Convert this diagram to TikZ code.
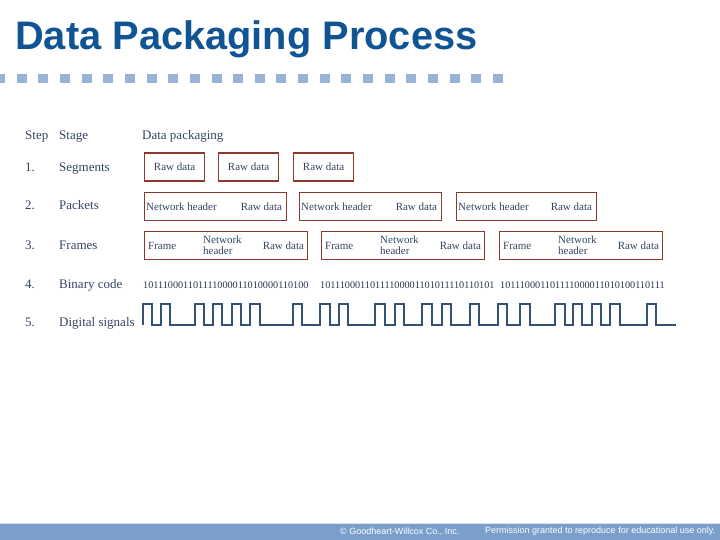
\documentclass[tikz,border=0pt]{standalone}
\usepackage{fontspec}
\setmainfont{Liberation Serif}
\newfontfamily\headfont{Liberation Sans}
\usepackage{tikz}
\usetikzlibrary{positioning}
\usepackage{xcolor}

\definecolor{titleblue}{RGB}{16,84,148}
\definecolor{dotblue}{RGB}{152,179,214}
\definecolor{barblue}{RGB}{122,159,203}
\definecolor{inkblue}{RGB}{52,68,98}
\definecolor{boxred}{RGB}{140,56,44}
\definecolor{waveblue}{RGB}{52,82,118}

\tikzset{
    lbl/.style={anchor=base west, inner sep=0pt, text=inkblue, font=\fontsize{13}{15}\selectfont},
    packet/.style={draw=boxred, line width=1.2pt, anchor=west, inner sep=0pt, minimum height=28pt, text=inkblue, font=\fontsize{11}{12}\selectfont},
    intxt/.style={inner sep=0pt, text=inkblue, font=\fontsize{11}{12}\selectfont},
    bits/.style={anchor=base west, inner sep=0pt, text=inkblue!80!black, font=\fontsize{10.2}{11}\selectfont},
    wave/.style={draw=waveblue, line width=1.3pt, line join=miter},
    foot/.style={inner sep=0pt, text=white, font=\headfont\fontsize{9}{10}\selectfont}
}

\begin{document}
\begin{tikzpicture}[x=1pt, y=-1pt]
        \useasboundingbox (0,0) rectangle (720,540);
        % Title and dotted rule
        \node [anchor=base west, inner sep=0pt, text=titleblue, font=\headfont\bfseries\fontsize{39.8}{42}\selectfont] (title) at (15,50) {Data Packaging Process};
        \foreach \i in {0,...,23}
            \fill [dotblue] (-5+\i*21.65,74) rectangle ++(10,9);
        % Column heads
        \node [lbl] (hstep) at (25,140) {Step};
        \node [lbl] (hstage) at (59,140) {Stage};
        \node [lbl] (hdata) at (142,140) {Data packaging};
        % Steps and stages
        \foreach \n/\y/\s in {1/172/Segments, 2/210/Packets, 3/249/Frames, 4/288/Binary code, 5/326/Digital signals} {
            \node [lbl] (step\n) at (25,\y) {\n.};
            \node [lbl] (stage\n) at (59,\y) {\s};
        }
        % Segments
        \node [packet, minimum width=60pt] (seg1) at (144,167) {Raw data};
        \node [packet, minimum width=60pt] (seg2) at (218,167) {Raw data};
        \node [packet, minimum width=60pt] (seg3) at (293,167) {Raw data};
        % Packets
        \foreach \i/\x/\w in {1/144/142, 2/299/142, 3/456/140} {
            \node [packet, minimum width=\w pt] (pk\i) at (\x,206.5) {};
            \node [intxt, anchor=west, right=2pt of pk\i.west] (pkh\i) {Network header};
            \node [intxt, anchor=east, left=5pt of pk\i.east] (pkd\i) {Raw data};
        }
        % Frames
        \foreach \i/\x in {1/144, 2/321, 3/499} {
            \node [packet, minimum width=163pt] (fr\i) at (\x,245.5) {};
            \node [intxt, anchor=west, right=4pt of fr\i.west] (frf\i) {Frame};
            \node [intxt, anchor=west, align=left, right=59pt of fr\i.west, font=\fontsize{11}{11}\selectfont] (frh\i) {Network\\header};
            \node [intxt, anchor=east, left=4pt of fr\i.east] (frd\i) {Raw data};
        }
        % Binary code
        \node [bits] (bin1) at (143,288) {101110001101111000011010000110100};
        \node [bits] (bin2) at (320,288) {10111000110111100001101011110110101};
        \node [bits] (bin3) at (500,288) {101110001101111000011010100110111};
        % Digital signal
        \draw [wave] (143,325)
            \foreach \a/\b in {143/152, 161/170, 195/204, 213/222, 232/241, 250/260, 293/302, 320/330, 339/348, 375/385, 395/404, 422/432, 442/451, 470/479, 498/507, 520/530, 555/565, 573/582, 592/601, 610/620, 647/656} {
                -- (\a,325) -- (\a,304) -- (\b,304) -- (\b,325)
            } -- (676,325);
        % Footer bar
        \fill [barblue] (0,523) rectangle (720,540);
        \draw [white!70!barblue, line width=1pt] (0,523) -- (720,523);
        \node [foot, anchor=west] (copy) at (340,531.5) {\textcopyright{} Goodheart-Willcox Co., Inc.};
        \node [foot, anchor=west] (perm) at (485,531.5) {Permission granted to reproduce for educational use only.};
    \end{tikzpicture}
\end{document}
